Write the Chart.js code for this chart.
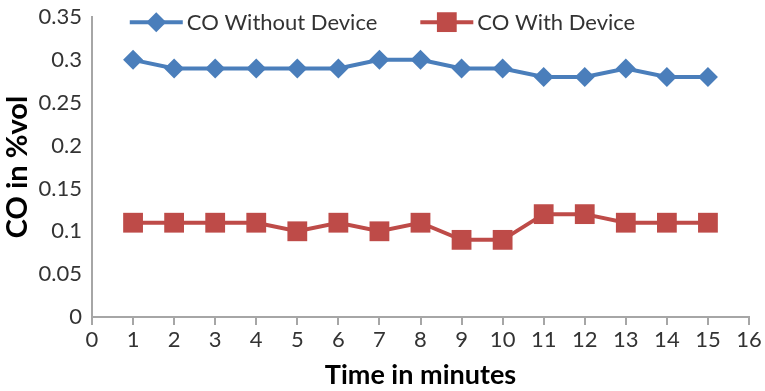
<!DOCTYPE html>
<html lang="en">
<head>
  <meta charset="utf-8" />
  <title>CO in %vol</title>
  <style>
    html, body { margin: 0; padding: 0; background: #ffffff; }
    #wrap { width: 765px; height: 391px; }
  </style>
</head>
<body>
  <div id="wrap"><canvas id="chart" width="765" height="391"></canvas></div>

  <script src="https://cdn.jsdelivr.net/npm/chart.js"></script>
  <script>
    // Data
    const minutes = [1, 2, 3, 4, 5, 6, 7, 8, 9, 10, 11, 12, 13, 14, 15];
    const coWithout = [0.30, 0.29, 0.29, 0.29, 0.29, 0.29, 0.30, 0.30, 0.29, 0.29, 0.28, 0.28, 0.29, 0.28, 0.28];
    const coWith = [0.11, 0.11, 0.11, 0.11, 0.10, 0.11, 0.10, 0.11, 0.09, 0.09, 0.12, 0.12, 0.11, 0.11, 0.11];
    const seriesNames = ['CO Without Device', 'CO With Device'];

    const blue = '#4a7ebb';
    const red = '#be4b48';
    const axisGrey = '#a6a6a6';
    const FONT = 'Lato, "Liberation Sans", sans-serif';

    const toPoints = vals => vals.map((v, i) => ({ x: minutes[i], y: v }));

    // legend drawn like Excel: short line with marker in the middle, then text
    const lineLegend = {
      id: 'lineLegend',
      afterDraw(chart) {
        const ctx = chart.ctx;
        const y = chart.scales.y.getPixelForValue(0.344);
        const lineLen = 53, gap = 4, itemGap = 43;
        ctx.save();
        ctx.font = '22px ' + FONT;
        const widths = chart.data.datasets.map(ds => lineLen + gap + ctx.measureText(ds.label).width);
        const total = widths.reduce((a, b) => a + b, 0) + itemGap * (widths.length - 1);
        let x = (chart.width - total) / 2;
        chart.data.datasets.forEach((ds, i) => {
          ctx.strokeStyle = ds.borderColor;
          ctx.lineWidth = 4;
          ctx.beginPath();
          ctx.moveTo(x, y);
          ctx.lineTo(x + lineLen, y);
          ctx.stroke();
          ctx.fillStyle = ds.pointBackgroundColor;
          Chart.helpers.drawPoint(ctx, {
            pointStyle: ds.pointStyle, radius: ds.pointRadius, borderWidth: 0, rotation: 0
          }, x + lineLen / 2, y);
          ctx.fillStyle = '#333333';
          ctx.textBaseline = 'middle';
          ctx.textAlign = 'left';
          ctx.fillText(ds.label, x + lineLen + gap, y + 1);
          x += widths[i] + itemGap;
        });
        ctx.restore();
      }
    };

    new Chart(document.getElementById('chart').getContext('2d'), {
      type: 'line',
      data: {
        datasets: [
          {
            label: seriesNames[0],
            data: toPoints(coWithout),
            borderColor: blue,
            backgroundColor: blue,
            pointBackgroundColor: blue,
            pointBorderColor: blue,
            borderWidth: 4,
            pointStyle: 'rectRot',
            pointRadius: 10,
            pointBorderWidth: 0,
            tension: 0
          },
          {
            label: seriesNames[1],
            data: toPoints(coWith),
            borderColor: red,
            backgroundColor: red,
            pointBackgroundColor: red,
            pointBorderColor: red,
            borderWidth: 4,
            pointStyle: 'rect',
            pointRadius: 14,
            pointBorderWidth: 0,
            tension: 0
          }
        ]
      },
      options: {
        responsive: false,
        animation: false,
        clip: false,
        layout: { padding: { top: 17, right: 16, left: 0, bottom: 0 } },
        plugins: {
          legend: { display: false },
          tooltip: { enabled: false }
        },
        scales: {
          x: {
            type: 'linear',
            min: 0,
            max: 16,
            afterFit(scale) {
              scale.height = 74;
              scale.paddingLeft = 0;
              scale.paddingRight = 0;
            },
            border: { color: axisGrey, width: 2 },
            grid: { drawOnChartArea: false, drawTicks: true, tickLength: 8, color: axisGrey, lineWidth: 2 },
            ticks: { stepSize: 1, color: '#333333', padding: 2, font: { family: FONT, size: 22 } },
            title: {
              display: true,
              text: 'Time in minutes',
              color: '#000000',
              padding: { top: 2, bottom: 0 },
              font: { family: FONT, size: 27, weight: 'bold' }
            }
          },
          y: {
            min: 0,
            max: 0.35,
            afterFit(scale) {
              scale.width = 92;
              scale.paddingTop = 0;
              scale.paddingBottom = 0;
            },
            border: { color: axisGrey, width: 2 },
            grid: { drawOnChartArea: false, drawTicks: false },
            ticks: {
              stepSize: 0.05,
              color: '#333333',
              padding: 10,
              font: { family: FONT, size: 22 },
              callback: v => +v.toFixed(2)
            },
            title: {
              display: true,
              text: 'CO in %vol',
              color: '#000000',
              padding: { top: 0, bottom: 2 },
              font: { family: FONT, size: 29, weight: 'bold' }
            }
          }
        }
      },
      plugins: [lineLegend]
    });
  </script>
</body>
</html>
